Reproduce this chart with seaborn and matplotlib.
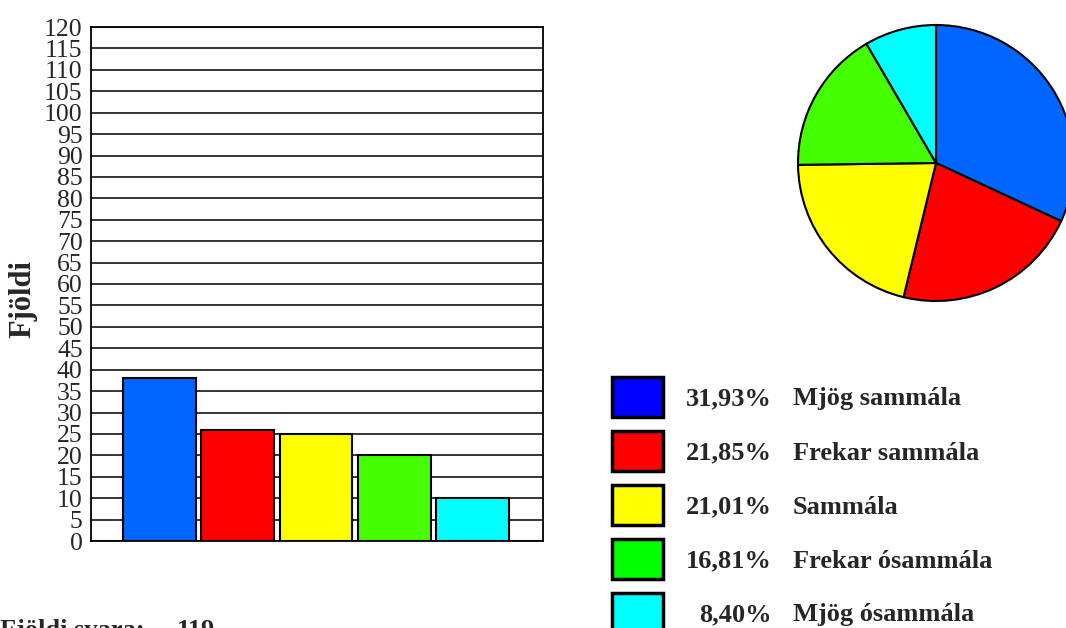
import matplotlib
matplotlib.use("Agg")
import matplotlib.pyplot as plt
from matplotlib.patches import Rectangle
import seaborn as sns
import pandas as pd

# Survey answers and number of respondents per answer
categories = ["Mjög sammála", "Frekar sammála", "Sammála", "Frekar ósammála", "Mjög ósammála"]
counts = [38, 26, 25, 20, 10]
bar_colors = ["#0066ff", "#ff0000", "#ffff00", "#44ff00", "#00ffff"]
key_colors = ["#0000ff", "#ff0000", "#ffff00", "#00ff00", "#00ffff"]
y_ticks = list(range(0, 121, 5))
y_title = "Fjöldi"
total_title = "Fjöldi svara:"

sns.set_theme(style="white")
plt.rcParams["font.family"] = ["Liberation Serif", "DejaVu Serif"]

W, H = 1066, 628
fig = plt.figure(figsize=(W / 100, H / 100), dpi=100)
fig.patch.set_facecolor("white")


def px_axes(x0, y0, x1, y1):
    """Axes placed by pixel box (top-left origin)."""
    return fig.add_axes([x0 / W, 1 - y1 / H, (x1 - x0) / W, (y1 - y0) / H])


# ---- bar chart ----
df = pd.DataFrame({"svar": categories, "fjoldi": counts})
ax = px_axes(91, 27, 543, 541)
sns.barplot(data=df, x="svar", y="fjoldi", hue="svar", palette=bar_colors,
            width=0.93, edgecolor="black", linewidth=1.5, legend=False,
            saturation=1, ax=ax, zorder=3)
ax.set_xlim(-0.875, 4.9)
ax.set_ylim(0, 120)
ax.set_yticks(y_ticks)
ax.set_yticklabels([str(v) for v in y_ticks], fontsize=18.5, family="Liberation Serif")
ax.tick_params(axis="y", length=0, pad=6)
ax.set_xticks([])
ax.set_xlabel("")
ax.set_ylabel("")
for v in y_ticks:
    ax.axhline(v, color="black", lw=1.1, zorder=1)
for s in ax.spines.values():
    s.set_visible(True)
    s.set_color("black")
    s.set_linewidth(1.3)
ax.set_facecolor("white")

fig.text(23 / W, 1 - 299 / H, y_title, rotation=90, ha="center", va="center",
         fontsize=22, fontweight="bold")

# ---- pie chart ----
pax = px_axes(798, 25, 1074, 301)
pax.pie(counts, colors=bar_colors, startangle=90, counterclock=False,
        wedgeprops=dict(edgecolor="black", linewidth=1.5))
pax.set_xlim(-1.0, 1.0)
pax.set_ylim(-1.0, 1.0)
pax.set_aspect("equal")
pax.axis("off")

# ---- key with percentages ----
lax = px_axes(600, 360, 1066, 628)
lax.set_xlim(600, 1066)
lax.set_ylim(628, 360)
lax.axis("off")
total = sum(counts)
for i, (lab, n, c) in enumerate(zip(categories, counts, key_colors)):
    top = 377 + i * 54
    lax.add_patch(Rectangle((612, top), 51, 40, facecolor=c, edgecolor="black",
                            linewidth=2.5, clip_on=False))
    pct = f"{100 * n / total:.2f}".replace(".", ",") + "%"
    lax.text(772, top + 22, pct, ha="right", va="center", fontsize=19,
             fontweight="bold", clip_on=False)
    lax.text(793, top + 22, lab, ha="left", va="center", fontsize=19,
             fontweight="bold", clip_on=False)

# ---- respondent total ----
fig.text(0, 1 - 619 / H, total_title, ha="left", va="top", fontsize=19, fontweight="bold")
fig.text(177 / W, 1 - 619 / H, str(total), ha="left", va="top", fontsize=19, fontweight="bold")

fig.savefig("out.png", dpi=100, facecolor="white")
